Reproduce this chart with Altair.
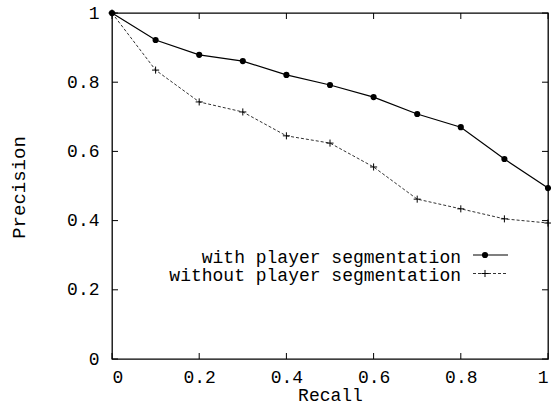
import altair as alt
import pandas as pd

recall = [0.0, 0.1, 0.2, 0.3, 0.4, 0.5, 0.6, 0.7, 0.8, 0.9, 1.0]
precision_with = [1.0, 0.922, 0.879, 0.861, 0.821, 0.792, 0.757, 0.708, 0.670, 0.578, 0.494]
precision_without = [1.0, 0.835, 0.743, 0.714, 0.645, 0.624, 0.555, 0.462, 0.434, 0.405, 0.393]
series_names = ["with player segmentation", "without player segmentation"]
tick_values = [0.0, 0.2, 0.4, 0.6, 0.8, 1.0]

W, H = 436, 346
FONT = "Liberation Mono"
TL = 6  # inward tick length

df_with = pd.DataFrame({"recall": recall, "precision": precision_with})
df_without = pd.DataFrame({"recall": recall, "precision": precision_without})
df_ticks = pd.DataFrame({"v": tick_values})

xs = alt.Scale(domain=[0, 1], nice=False, zero=False)
ys = alt.Scale(domain=[0, 1], nice=False, zero=False)

x_axis = alt.Axis(values=tick_values, labelExpr="format(datum.value, '~g')",
                  ticks=False, tickSize=0, domain=False, grid=False,
                  labelFont=FONT, labelFontSize=18, labelColor="black", labelPadding=9,
                  title="Recall", titleFont=FONT, titleFontSize=18, titleFontWeight="normal",
                  titleColor="black", titlePadding=0)
y_axis = alt.Axis(values=tick_values, labelExpr="format(datum.value, '~g')",
                  ticks=False, tickSize=0, domain=False, grid=False,
                  labelFont=FONT, labelFontSize=18, labelColor="black", labelPadding=13,
                  title="Precision", titleFont=FONT, titleFontSize=19, titleFontWeight="normal",
                  titleColor="black", titleX=-94, titleY=H / 2 + 1, titleBaseline="middle",
                  titleAlign="center", titleAngle=-90)

line_with = alt.Chart(df_with).mark_line(color="black", strokeWidth=1.2).encode(
    x=alt.X("recall:Q", scale=xs, axis=x_axis),
    y=alt.Y("precision:Q", scale=ys, axis=y_axis),
)
pts_with = alt.Chart(df_with).mark_point(shape="circle", filled=True, color="black", size=38, opacity=1).encode(
    x=alt.X("recall:Q", scale=xs), y=alt.Y("precision:Q", scale=ys))

line_without = alt.Chart(df_without).mark_line(color="#333333", strokeWidth=1, strokeDash=[3, 2]).encode(
    x=alt.X("recall:Q", scale=xs), y=alt.Y("precision:Q", scale=ys))
PLUS = "M-1,0L1,0M0,-1L0,1"
pts_without = alt.Chart(df_without).mark_point(shape=PLUS, color="black", size=50, strokeWidth=1, opacity=1).encode(
    x=alt.X("recall:Q", scale=xs), y=alt.Y("precision:Q", scale=ys))

tick_style = dict(color="black", strokeWidth=1)
ticks_bottom = alt.Chart(df_ticks).mark_rule(**tick_style).encode(
    x=alt.X("v:Q", scale=xs), y=alt.value(H), y2=alt.value(H - TL))
ticks_top = alt.Chart(df_ticks).mark_rule(**tick_style).encode(
    x=alt.X("v:Q", scale=xs), y=alt.value(0), y2=alt.value(TL))
ticks_left = alt.Chart(df_ticks).mark_rule(**tick_style).encode(
    y=alt.Y("v:Q", scale=ys), x=alt.value(0), x2=alt.value(TL))
ticks_right = alt.Chart(df_ticks).mark_rule(**tick_style).encode(
    y=alt.Y("v:Q", scale=ys), x=alt.value(W - TL), x2=alt.value(W))

# legend (gnuplot style: label then sample)
LX_TEXT, LX0, LX1, LXM = 349, 361, 396, 373
BASELINES = [249.5, 268]
legend_layers = []
for i, name in enumerate(series_names):
    d = pd.DataFrame({"label": [name]})
    yb = BASELINES[i]
    legend_layers.append(alt.Chart(d).mark_text(font=FONT, fontSize=18,
                                                align="right", baseline="alphabetic",
                                                color="black").encode(
        text="label:N", x=alt.value(LX_TEXT), y=alt.value(yb)))
    if i == 0:
        legend_layers.append(alt.Chart(d).mark_rule(color="black", strokeWidth=1.2).encode(
            x=alt.value(LX0), x2=alt.value(LX1), y=alt.value(yb - 7.5)))
        legend_layers.append(alt.Chart(d).mark_point(shape="circle", filled=True, color="black",
                                                     size=38, opacity=1).encode(
            x=alt.value(LXM), y=alt.value(yb - 7.5)))
    else:
        legend_layers.append(alt.Chart(d).mark_rule(color="#333333", strokeWidth=1, strokeDash=[3, 2]).encode(
            x=alt.value(LX0), x2=alt.value(LX1), y=alt.value(yb - 7.5)))
        legend_layers.append(alt.Chart(d).mark_point(shape=PLUS, color="black", size=50,
                                                     strokeWidth=1, opacity=1).encode(
            x=alt.value(LXM), y=alt.value(yb - 7.5)))

chart = alt.layer(
    line_with, ticks_bottom, ticks_top, ticks_left, ticks_right,
    line_without, pts_without, pts_with, *legend_layers
).properties(
    width=W, height=H,
    autosize=alt.AutoSizeParams(type="none"),
    padding={"left": 112, "top": 13, "right": 3, "bottom": 48},
    background="white",
).configure_view(stroke="black", strokeWidth=1.3)

chart.save("out.html", embed_options={"renderer": "svg", "actions": False})
